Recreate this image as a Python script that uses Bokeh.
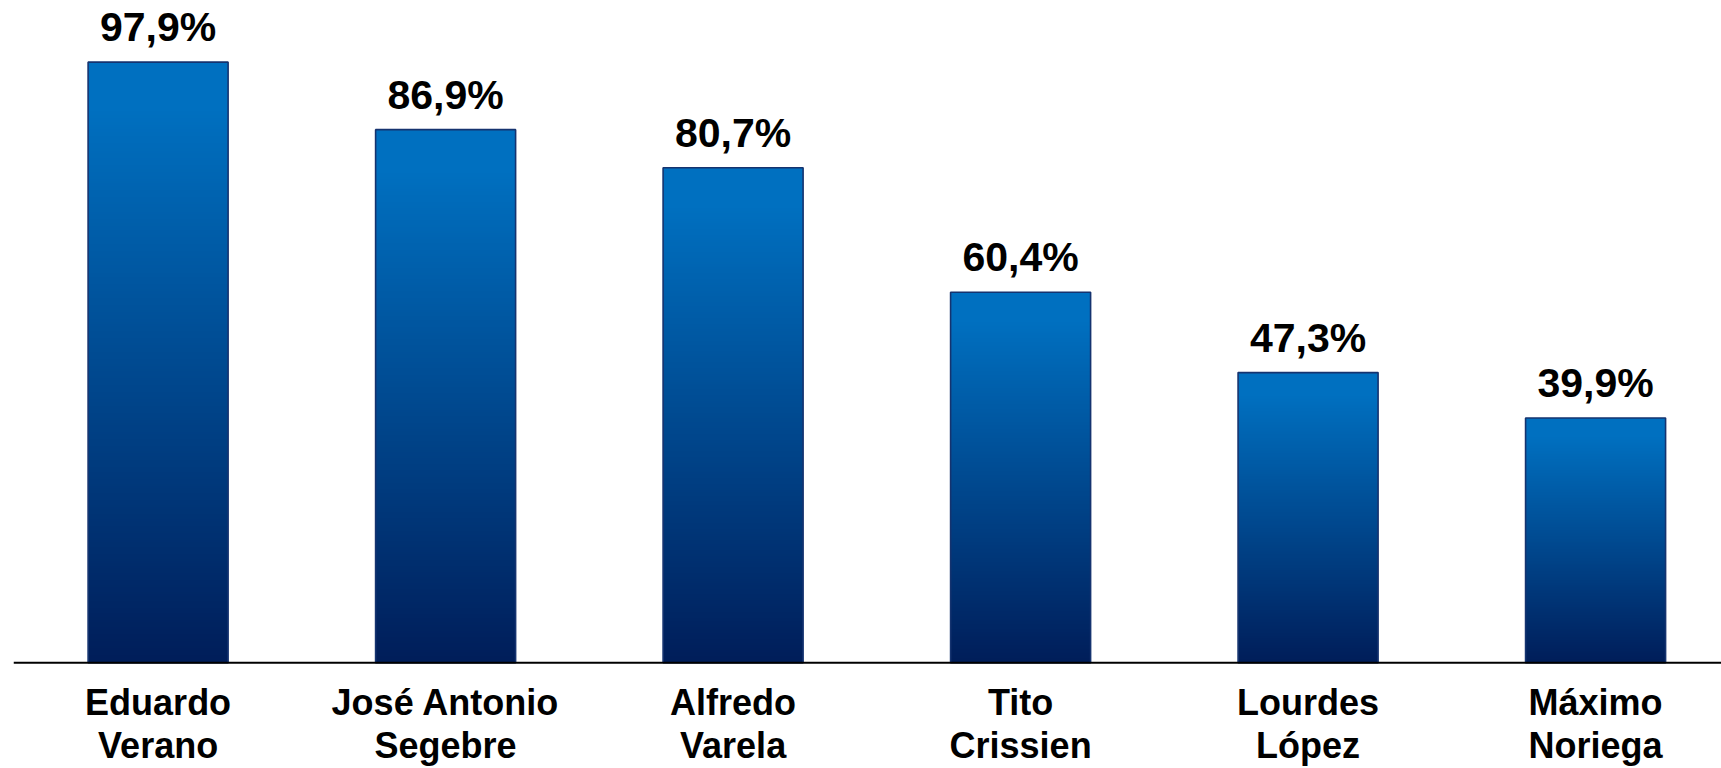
import numpy as np
from bokeh.plotting import figure
from bokeh.models import Range1d, Span
from bokeh.core.properties import value
from bokeh.embed import file_html
from bokeh.resources import INLINE

# ---- data ----
first_names = ["Eduardo", "José Antonio", "Alfredo", "Tito", "Lourdes", "Máximo"]
last_names = ["Verano", "Segebre", "Varela", "Crissien", "López", "Noriega"]
percentages = [97.9, 86.9, 80.7, 60.4, 47.3, 39.9]

xs = list(range(len(percentages)))
bar_w = 0.487
value_labels = [f"{v:.1f}".replace(".", ",") + "%" for v in percentages]

p = figure(width=1721, height=768, output_backend="svg", toolbar_location=None,
           x_range=Range1d(-0.503, 5.438), y_range=Range1d(-17.23, 107.95),
           min_border_left=13, min_border_right=0, min_border_top=0, min_border_bottom=0)
p.axis.visible = False
p.grid.visible = False
p.outline_line_color = None
p.background_fill_color = "white"

# vertical gradient from #0070C0 (top) to #001E5A (bottom)
top = np.array([0x00, 0x70, 0xC0], dtype=float)
bot = np.array([0x00, 0x1E, 0x5A], dtype=float)
n = 256
t = np.linspace(0, 1, n)  # 0 = bottom row, 1 = top row
f = np.clip((1 - t - 0.08) / 0.92, 0, 1)  # 0 near top, 1 at bottom
cols = top[None, :] * (1 - f[:, None]) + bot[None, :] * f[:, None]
rgba = np.zeros((n, 1), dtype=np.uint32)
view = rgba.view(dtype=np.uint8).reshape((n, 1, 4))
view[:, 0, 0] = cols[:, 0].astype(np.uint8)
view[:, 0, 1] = cols[:, 1].astype(np.uint8)
view[:, 0, 2] = cols[:, 2].astype(np.uint8)
view[:, 0, 3] = 255

p.image_rgba(image=[rgba] * len(percentages), x=[x - bar_w / 2 for x in xs],
             y=[0] * len(percentages), dw=[bar_w] * len(percentages), dh=percentages)
p.vbar(x=xs, top=percentages, bottom=0, width=bar_w, fill_alpha=0,
       line_color="#15336F", line_width=1.6)

p.add_layout(Span(location=0, dimension="width", line_color="black", line_width=2))

p.text(x=xs, y=percentages, text=value_labels, text_align="center",
       text_baseline="alphabetic", y_offset=-35, text_font=value("Liberation Sans"),
       text_font_style="bold", text_font_size="41px", text_color="black")
p.text(x=xs, y=[0] * len(xs), text=first_names, text_align="center",
       text_baseline="alphabetic", y_offset=40, text_font=value("Liberation Sans"),
       text_font_style="bold", text_font_size="36px", text_color="black")
p.text(x=xs, y=[0] * len(xs), text=last_names, text_align="center",
       text_baseline="alphabetic", y_offset=83, text_font=value("Liberation Sans"),
       text_font_style="bold", text_font_size="36px", text_color="black")

open("out.html", "w").write(file_html(p, INLINE))
